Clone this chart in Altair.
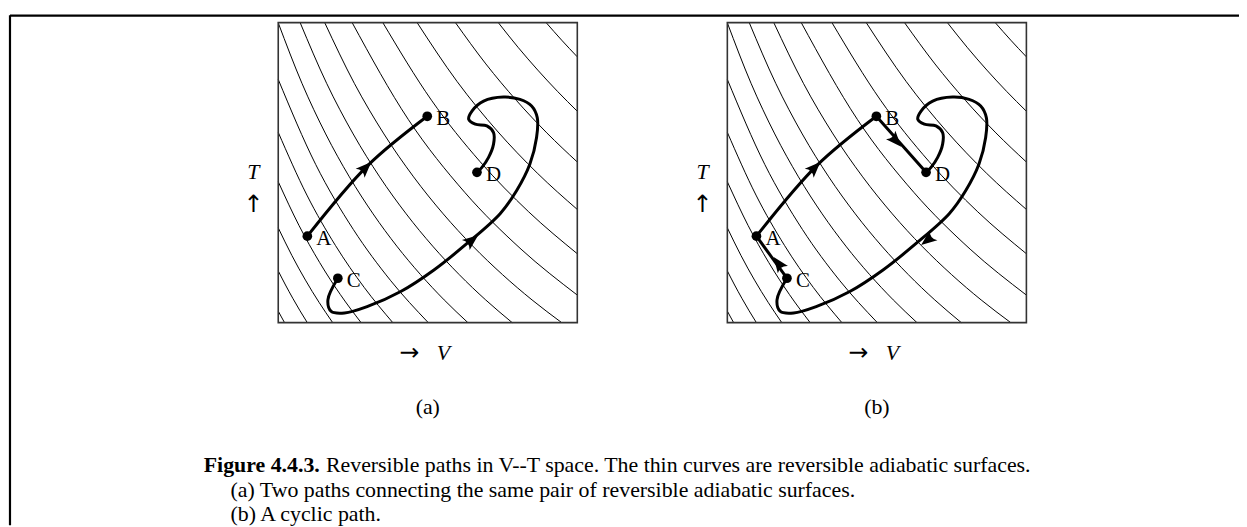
import altair as alt
import pandas as pd

FONT = "Liberation Serif"
ARROW_FONT = "DejaVu Sans"
INK = "#000000"

# figure coordinates: each panel spans 0..1 in V (right) and 0..1 in T (up)
PANEL_SHIFT = {"a": 0.0, "b": 1.5017}
X_DOMAIN = [-0.90365, 3.21262]
Y_DOMAIN = [-0.67550, 1.04305]
W, H = 1239, 519

POINT_NAMES = ["A", "B", "C", "D"]
POINT_V = [0.0973, 0.4983, 0.1993, 0.6645]
POINT_T = [0.2881, 0.6877, 0.1480, 0.5010]

AB_V = [0.0973, 0.2990, 0.4983]
AB_T = [0.2881, 0.5232, 0.6877]

LOOP_V = [0.1993, 0.1661, 0.1771, 0.2216, 0.2990, 0.4096, 0.5206, 0.6312, 0.7419,
          0.7973, 0.8415, 0.8638, 0.8661, 0.8472, 0.8083, 0.7532, 0.6867, 0.6478,
          0.6369, 0.6588, 0.6977, 0.7199, 0.7199, 0.7033, 0.6811, 0.6645]
LOOP_T = [0.1480, 0.0762, 0.0374, 0.0321, 0.0540, 0.1036, 0.1755, 0.2639, 0.3632,
          0.4404, 0.5288, 0.6169, 0.6831, 0.7219, 0.7440, 0.7517, 0.7384, 0.7053,
          0.6778, 0.6613, 0.6556, 0.6334, 0.5950, 0.5507, 0.5175, 0.5010]

BD_V = [0.4983, 0.6645]
BD_T = [0.6877, 0.5010]
CA_V = [0.1993, 0.0973]
CA_T = [0.1480, 0.2881]

ARROW_PANEL = ["a", "a", "b", "b", "b", "b"]
ARROW_V = [0.2924, 0.6478, 0.2924, 0.5638, 0.6688, 0.1704]
ARROW_T = [0.5166, 0.2748, 0.5166, 0.6060, 0.2748, 0.1977]
ARROW_ANGLE = [315, 322, 315, 48, 142, 234]

# thin adiabatic curves (same in both panels)
ADI_V = [
    [0, 0.0106, 0.0211],
    [0, 0.0243, 0.0486, 0.0729, 0.0972],
    [0, 0.0455, 0.0910, 0.1366, 0.1821],
    [0, 0.0693, 0.1385, 0.2078, 0.2770],
    [0, 0.0958, 0.1916, 0.2874, 0.3831],
    [0, 0.1254, 0.2509, 0.3763, 0.5017],
    [0, 0.0793, 0.1586, 0.2378, 0.3171, 0.3964, 0.4757, 0.5549, 0.6342],
    [0.0732, 0.1618, 0.2505, 0.3391, 0.4278, 0.5164, 0.6050, 0.6937, 0.7823],
    [0.1553, 0.2544, 0.3534, 0.4525, 0.5516, 0.6506, 0.7497, 0.8487, 0.9478],
    [0.2471, 0.4353, 0.6235, 0.8118, 1.0],
    [0.3497, 0.5123, 0.6749, 0.8374, 1.0],
    [0.4643, 0.5983, 0.7322, 0.8661, 1.0],
    [0.5924, 0.6943, 0.7962, 0.8981, 1.0],
    [0.7357, 0.8018, 0.8678, 0.9339, 1.0],
    [0.8957, 0.9478, 1.0],
]
ADI_T = [
    [0.0384, 0.0189, 0],
    [0.1724, 0.1254, 0.0812, 0.0394, 0],
    [0.3159, 0.2240, 0.1417, 0.0674, 0],
    [0.4696, 0.3241, 0.2003, 0.0934, 0],
    [0.6342, 0.4251, 0.2567, 0.1174, 0],
    [0.8105, 0.5268, 0.3108, 0.1396, 0],
    [0.9992, 0.7976, 0.6289, 0.4859, 0.3626, 0.2550, 0.1602, 0.0757, 0],
    [1.0, 0.7976, 0.6289, 0.4859, 0.3626, 0.2550, 0.1602, 0.0757, 0],
    [1.0, 0.7976, 0.6289, 0.4859, 0.3626, 0.2550, 0.1602, 0.0757, 0],
    [1.0, 0.6765, 0.4344, 0.2450, 0.0918],
    [1.0, 0.7414, 0.5365, 0.3693, 0.2297],
    [1.0, 0.8033, 0.6388, 0.4985, 0.3772],
    [1.0, 0.8622, 0.7407, 0.6324, 0.5353],
    [1.0, 0.9178, 0.8417, 0.7707, 0.7045],
    [1.0, 0.9414, 0.8858],
]

PANEL_LABELS = ["(a)", "(b)"]
CAPTION_BOLD = "Figure 4.4.3."
CAPTION_1 = "Reversible paths in V--T space.  The thin curves are reversible adiabatic surfaces."
CAPTION_2 = "(a) Two paths connecting the same pair of reversible adiabatic surfaces."
CAPTION_3 = "(b) A cyclic path."

# ------------------------------------------------------------------
rows = []
for p, off in PANEL_SHIFT.items():
    for j, (vs, ts) in enumerate(zip(ADI_V, ADI_T)):
        for i, (v, t) in enumerate(zip(vs, ts)):
            rows.append({"key": f"{p}{j}", "i": i, "x": v + off, "y": t})
adi = pd.DataFrame(rows)

boxes = pd.DataFrame({"x0": [PANEL_SHIFT["a"], PANEL_SHIFT["b"]],
                      "x1": [PANEL_SHIFT["a"] + 1, PANEL_SHIFT["b"] + 1],
                      "y0": [0, 0], "y1": [1, 1]})

paths = []
def add_path(name, off, vs, ts):
    for i, (v, t) in enumerate(zip(vs, ts)):
        paths.append({"seg": name, "i": i, "x": v + off, "y": t})

add_path("aAB", PANEL_SHIFT["a"], AB_V, AB_T)
add_path("aLoop", PANEL_SHIFT["a"], LOOP_V, LOOP_T)
add_path("bAB", PANEL_SHIFT["b"], AB_V, AB_T)
add_path("bLoop", PANEL_SHIFT["b"], LOOP_V, LOOP_T)
add_path("bBD", PANEL_SHIFT["b"], BD_V, BD_T)
add_path("bCA", PANEL_SHIFT["b"], CA_V, CA_T)
paths = pd.DataFrame(paths)

pts = pd.DataFrame([{"x": v + off, "y": t, "name": n}
                    for off in PANEL_SHIFT.values()
                    for n, v, t in zip(POINT_NAMES, POINT_V, POINT_T)])

arrows = pd.DataFrame({"x": [v + PANEL_SHIFT[p] for p, v in zip(ARROW_PANEL, ARROW_V)],
                       "y": ARROW_T, "ang": ARROW_ANGLE})

xs = alt.Scale(domain=X_DOMAIN, nice=False, zero=False)
ys = alt.Scale(domain=Y_DOMAIN, nice=False, zero=False)
X = lambda f="x": alt.X(f"{f}:Q", scale=xs, axis=None)
Y = lambda f="y": alt.Y(f"{f}:Q", scale=ys, axis=None)

adi_layer = alt.Chart(adi).mark_line(color=INK, strokeWidth=1, interpolate="monotone").encode(
    x=X(), y=Y(), detail="key:N", order="i:Q")

box_layer = alt.Chart(boxes).mark_rect(fillOpacity=0, stroke="#333333", strokeWidth=1.6).encode(
    x=X("x0"), x2="x1:Q", y=Y("y0"), y2="y1:Q")

path_layer = alt.Chart(paths).mark_line(
    color=INK, strokeWidth=3, interpolate="catmull-rom", strokeCap="round", strokeJoin="round"
).encode(x=X(), y=Y(), detail="seg:N", order="i:Q")

ARROW_SHAPE = "M1,0 L-1,-0.8 Q-0.35,0 -1,0.8 Z"
arrow_layer = alt.Chart(arrows).mark_point(
    shape=ARROW_SHAPE, filled=True, size=250, color=INK, opacity=1, strokeWidth=0
).encode(x=X(), y=Y(), angle=alt.Angle("ang:Q", scale=None))

pt_layer = alt.Chart(pts).mark_circle(size=95, color=INK, opacity=1).encode(x=X(), y=Y())
lbl_layer = alt.Chart(pts).mark_text(
    font=FONT, fontSize=21, align="left", baseline="middle", dx=9, dy=3, color=INK
).encode(x=X(), y=Y(), text="name:N")

ax_rows = []
for off, lab in zip(PANEL_SHIFT.values(), PANEL_LABELS):
    ax_rows.append({"x": off - 0.0831, "y": 0.501, "t": "T", "s": "italic"})
    ax_rows.append({"x": off - 0.0831, "y": 0.393, "t": "\u2191", "s": "arrow"})
    ax_rows.append({"x": off + 0.438, "y": -0.1026, "t": "\u2192", "s": "arrow"})
    ax_rows.append({"x": off + 0.552, "y": -0.1026, "t": "V", "s": "italic"})
    ax_rows.append({"x": off + 0.5, "y": -0.2815, "t": lab, "s": "normal"})
ax = pd.DataFrame(ax_rows)
ax_it = alt.Chart(ax[ax.s == "italic"]).mark_text(
    font=FONT, fontSize=22, fontStyle="italic", align="center", baseline="middle", color=INK
).encode(x=X(), y=Y(), text="t:N")
ax_arrow = alt.Chart(ax[ax.s == "arrow"]).mark_text(
    font=ARROW_FONT, fontSize=24, align="center", baseline="middle", color=INK
).encode(x=X(), y=Y(), text="t:N")
ax_up = alt.Chart(ax[ax.s == "normal"]).mark_text(
    font=FONT, fontSize=22, align="center", baseline="middle", color=INK
).encode(x=X(), y=Y(), text="t:N")

cap_bold = alt.Chart(pd.DataFrame({"x": [-0.2492], "y": [-0.4735], "t": [CAPTION_BOLD]})).mark_text(
    font=FONT, fontSize=22, fontWeight="bold", align="left", baseline="middle", color=INK
).encode(x=X(), y=Y(), text="t:N")
cap_reg = alt.Chart(pd.DataFrame({"x": [0.1595, -0.1595, -0.1595],
                                  "y": [-0.4735, -0.5563, -0.6391],
                                  "t": [CAPTION_1, CAPTION_2, CAPTION_3]})).mark_text(
    font=FONT, fontSize=22, align="left", baseline="middle", color=INK
).encode(x=X(), y=Y(), text="t:N")

border = alt.Chart(pd.DataFrame({"x": [-0.8970, -0.8970], "x2": [-0.8970, 3.2126],
                                 "y": [-0.6755, 1.0232], "y2": [1.0248, 1.0232]})).mark_rule(
    color=INK, strokeWidth=2.2).encode(x=X(), x2="x2:Q", y=Y(), y2="y2:Q")

chart = alt.layer(
    adi_layer, box_layer, path_layer, arrow_layer, pt_layer, lbl_layer,
    ax_it, ax_arrow, ax_up, cap_bold, cap_reg, border
).properties(
    width=W, height=H, autosize=alt.AutoSizeParams(type="none"), padding=0
).configure_view(stroke=None)

chart.save("out.html", embed_options={"renderer": "svg", "actions": False})
